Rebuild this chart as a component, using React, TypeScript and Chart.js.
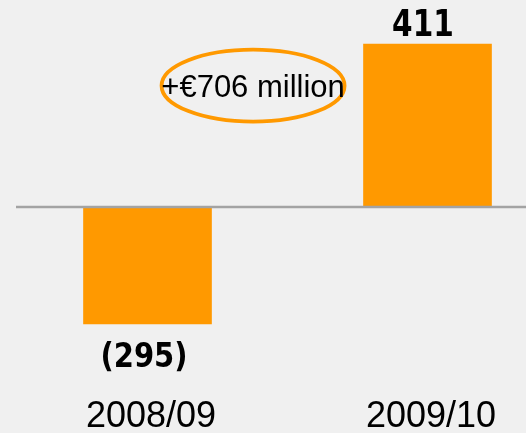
import React, { useEffect, useRef } from "react";
import { Chart, registerables } from "chart.js";

Chart.register(...registerables);

const categories = ["2008/09", "2009/10"];
const values = [-295, 411];
const valueLabels = ["(295)", "411"];
const annotationText = "+€706 million";
// annotation anchor in data space (category index, value)
const annotationIndex = 0.377;
const annotationValue = 306;

const ORANGE = "#FF9900";
const BG = "#F0F0F0";

function drawNarrow(
  ctx: CanvasRenderingContext2D,
  text: string,
  x: number,
  y: number,
  size: number,
  sx: number
) {
  ctx.save();
  ctx.font = `bold ${size}px 'DejaVu Sans', sans-serif`;
  ctx.textAlign = "center";
  ctx.textBaseline = "alphabetic";
  ctx.translate(x, y);
  ctx.scale(sx, 1);
  ctx.fillText(text, 0, 0);
  ctx.restore();
}

const overlayPlugin = {
  id: "overlay",
  afterDatasetsDraw(chart: any) {
    const ctx = chart.ctx as CanvasRenderingContext2D;
    const xs = chart.scales.x;
    const ys = chart.scales.y;
    const y0 = ys.getPixelForValue(0);
    ctx.save();
    // zero line
    ctx.strokeStyle = "#A3A3A3";
    ctx.lineWidth = 2.5;
    ctx.beginPath();
    ctx.moveTo(16, y0);
    ctx.lineTo(chart.width, y0);
    ctx.stroke();

    // value labels
    ctx.fillStyle = "#000";
    values.forEach((v, i) => {
      const px = xs.getPixelForValue(i);
      const py = ys.getPixelForValue(v);
      if (v < 0) {
        drawNarrow(ctx, valueLabels[i], px - 3.5, py + 43, 33, 0.88);
      } else {
        drawNarrow(ctx, valueLabels[i], px - 4.5, py - 8.5, 37, 0.8);
      }
    });

    // category labels
    ctx.textAlign = "center";
    ctx.textBaseline = "alphabetic";
    ctx.font = "36px 'Liberation Sans', Arial, sans-serif";
    categories.forEach((c, i) => {
      const px = xs.getPixelForValue(i);
      ctx.fillText(c, px + 3.5, 427);
    });

    // annotation ellipse + text
    const cx = xs.getPixelForValue(annotationIndex);
    const cy = ys.getPixelForValue(annotationValue);
    ctx.strokeStyle = ORANGE;
    ctx.lineWidth = 3.8;
    ctx.beginPath();
    ctx.ellipse(cx, cy, 91.5, 36, 0, 0, Math.PI * 2);
    ctx.stroke();
    ctx.fillStyle = "#000";
    ctx.font = "31px 'Liberation Sans', Arial, sans-serif";
    ctx.fillText(annotationText, cx, cy + 11);
    ctx.restore();
  },
};

export default function App() {
  const ref = useRef<HTMLCanvasElement | null>(null);
  useEffect(() => {
    if (!ref.current) return;
    const chart = new Chart(ref.current, {
      type: "bar",
      data: {
        labels: categories,
        datasets: [
          {
            data: values,
            backgroundColor: ORANGE,
            borderWidth: 0,
            barThickness: 128,
            clip: false as any,
          },
        ],
      },
      options: {
        responsive: false,
        animation: false,
        layout: { padding: { left: 147.5, right: 98.5, top: 0, bottom: 0 } },
        plugins: { legend: { display: false }, tooltip: { enabled: false } },
        scales: {
          x: { display: false, offset: false },
          y: { display: false, min: -570, max: 522 },
        },
      },
      plugins: [overlayPlugin],
    });
    return () => chart.destroy();
  }, []);
  return (
    <div
      style={{
        position: "fixed",
        left: 0,
        top: 0,
        width: 526,
        height: 433,
        background: BG,
      }}
    >
      <canvas ref={ref} width={526} height={433} />
    </div>
  );
}
